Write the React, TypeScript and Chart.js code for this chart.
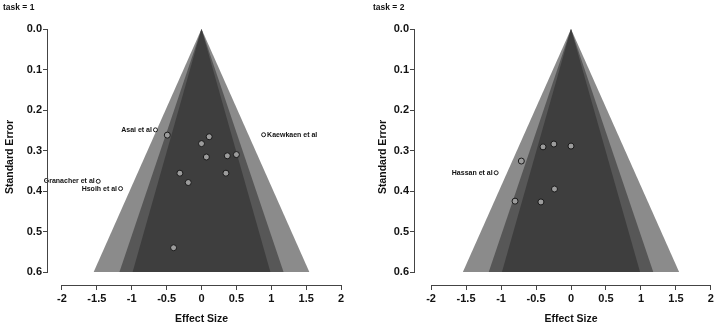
import { useEffect, useRef } from "react";
import { Chart, registerables } from "chart.js";

Chart.register(...registerables);

const FONT = "'Liberation Sans', Arial, sans-serif";

// Axis ticks
const effectTicks = [-2, -1.5, -1, -0.5, 0, 0.5, 1, 1.5, 2];
const seTicks = [0, 0.1, 0.2, 0.3, 0.4, 0.5, 0.6];

// Contour-enhanced funnel: 99%, 95%, 90% regions down to the largest SE shown
const funnelMaxSE = 0.6;
const contourZ = [2.576, 1.96, 1.645];
const contourColors = ["#8b8b8b", "#575757", "#3e3e3e"];

// task = 1 studies
const task1Effect = [-0.49, 0.11, 0.0, 0.07, 0.37, 0.5, -0.31, 0.35, -0.19, -0.4];
const task1SE = [0.262, 0.266, 0.283, 0.316, 0.313, 0.31, 0.356, 0.356, 0.379, 0.54];
const task1Names = ["Asai et al", "Kaewkaen et al", "Granacher et al", "Hsoih et al"];
const task1NameEffect = [-0.66, 0.89, -1.48, -1.16];
const task1NameSE = [0.249, 0.261, 0.376, 0.394];
const task1NameSide = ["left", "right", "left", "left"];

// task = 2 studies
const task2Effect = [-0.4, -0.245, 0.0, -0.71, -0.236, -0.8, -0.43];
const task2SE = [0.291, 0.284, 0.289, 0.326, 0.395, 0.425, 0.427];
const task2Names = ["Hassan et al"];
const task2NameEffect = [-1.07];
const task2NameSE = [0.355];
const task2NameSide = ["left"];

type PanelProps = {
  title: string;
  effect: number[];
  se: number[];
  names: string[];
  nameEffect: number[];
  nameSE: number[];
  nameSide: string[];
  left: number;
  width: number;
  xMin: number;
  xMax: number;
  padRight: number;
  yTitlePad: number;
  titleX: number;
};

function FunnelPanel(p: PanelProps) {
  const ref = useRef<HTMLCanvasElement | null>(null);

  useEffect(() => {
    if (!ref.current) return;

    const funnelPlugin = {
      id: "funnel",
      beforeDatasetsDraw(chart: any) {
        const { ctx } = chart;
        const x = chart.scales.x;
        const y = chart.scales.y;
        ctx.save();
        contourZ.forEach((z, i) => {
          const half = z * funnelMaxSE;
          ctx.beginPath();
          ctx.moveTo(x.getPixelForValue(0), y.getPixelForValue(0));
          ctx.lineTo(x.getPixelForValue(-half), y.getPixelForValue(funnelMaxSE));
          ctx.lineTo(x.getPixelForValue(half), y.getPixelForValue(funnelMaxSE));
          ctx.closePath();
          ctx.fillStyle = contourColors[i];
          ctx.fill();
        });
        ctx.restore();
      },
    };

    const axesPlugin = {
      id: "axesLines",
      afterDraw(chart: any) {
        const { ctx, chartArea } = chart;
        const x = chart.scales.x;
        const y = chart.scales.y;
        ctx.save();
        ctx.strokeStyle = "#444";
        ctx.lineWidth = 1;
        ctx.beginPath();
        const xb = Math.round(chartArea.bottom) + 0.5;
        ctx.moveTo(x.getPixelForValue(effectTicks[0]), xb);
        ctx.lineTo(x.getPixelForValue(effectTicks[effectTicks.length - 1]), xb);
        const yl = Math.round(chartArea.left) - 0.5;
        ctx.moveTo(yl, y.getPixelForValue(seTicks[0]));
        ctx.lineTo(yl, y.getPixelForValue(seTicks[seTicks.length - 1]));
        ctx.stroke();
        // panel heading
        ctx.fillStyle = "#111";
        ctx.font = `bold 8.5px ${FONT}`;
        ctx.textBaseline = "middle";
        ctx.textAlign = "left";
        ctx.fillText(p.title, p.titleX, 8);
        ctx.restore();
      },
    };

    const labelPlugin = {
      id: "studyLabels",
      afterDatasetsDraw(chart: any) {
        const { ctx } = chart;
        const meta = chart.getDatasetMeta(1);
        ctx.save();
        ctx.fillStyle = "#111";
        ctx.font = `bold 7px ${FONT}`;
        ctx.textBaseline = "middle";
        p.names.forEach((name, i) => {
          const el = meta.data[i];
          if (!el) return;
          if (p.nameSide[i] === "left") {
            ctx.textAlign = "right";
            ctx.fillText(name, el.x - 3.5, el.y);
          } else {
            ctx.textAlign = "left";
            ctx.fillText(name, el.x + 3.5, el.y);
          }
        });
        ctx.restore();
      },
    };

    const tickFont = { family: FONT, size: 11, weight: "bold" as const };
    const titleFont = { family: FONT, size: 10.5, weight: "bold" as const };

    const chart = new Chart(ref.current, {
      type: "scatter",
      data: {
        datasets: [
          {
            data: p.effect.map((e, i) => ({ x: e, y: p.se[i] })),
            pointRadius: 3,
            pointBorderWidth: 1,
            pointBackgroundColor: "#9c9c9c",
            pointBorderColor: "#1a1a1a",
          },
          {
            data: p.nameEffect.map((e, i) => ({ x: e, y: p.nameSE[i] })),
            pointRadius: 2,
            pointBorderWidth: 1,
            pointBackgroundColor: "#ffffff",
            pointBorderColor: "#1a1a1a",
            clip: false as any,
          },
        ],
      },
      options: {
        animation: false,
        responsive: false,
        devicePixelRatio: 1,
        layout: { padding: { top: 29, right: p.padRight, left: 0, bottom: 0 } },
        plugins: {
          legend: { display: false },
          tooltip: { enabled: false },
        },
        scales: {
          x: {
            type: "linear",
            min: p.xMin,
            max: p.xMax,
            afterBuildTicks: (s: any) => {
              s.ticks = effectTicks.map((v) => ({ value: v }));
            },
            afterFit: (s: any) => {
              s.height = 40;
            },
            border: { display: false },
            grid: { drawOnChartArea: false, drawTicks: true, tickLength: 5, color: "#444" },
            ticks: {
              autoSkip: false,
              maxRotation: 0,
              padding: 2,
              color: "#111",
              font: tickFont,
              callback: (v: any) => String(v),
            },
            title: {
              display: true,
              text: "Effect Size",
              color: "#111",
              font: titleFont,
              padding: { top: 0, bottom: 0 },
            },
          },
          y: {
            type: "linear",
            reverse: true,
            min: 0,
            max: 0.632,
            afterBuildTicks: (s: any) => {
              s.ticks = seTicks.map((v) => ({ value: v }));
            },
            afterFit: (s: any) => {
              s.width = 48;
            },
            border: { display: false },
            grid: { drawOnChartArea: false, drawTicks: true, tickLength: 5, color: "#444" },
            ticks: {
              autoSkip: false,
              padding: 1,
              color: "#111",
              font: tickFont,
              callback: (v: any) => Number(v).toFixed(1),
            },
            title: {
              display: true,
              text: "Standard Error",
              color: "#111",
              font: titleFont,
              padding: { top: p.yTitlePad, bottom: 0 },
            },
          },
        },
      },
      plugins: [funnelPlugin, labelPlugin, axesPlugin],
    });

    return () => chart.destroy();
  }, []);

  return (
    <canvas
      ref={ref}
      width={p.width}
      height={325}
      style={{ position: "absolute", left: p.left, top: 0, width: p.width, height: 325 }}
    />
  );
}

export default function App() {
  return (
    <div
      style={{
        position: "absolute",
        left: 0,
        top: 0,
        width: 720,
        height: 325,
        overflow: "hidden",
        background: "#fff",
      }}
    >
      <FunnelPanel
        title="task = 1"
        effect={task1Effect}
        se={task1SE}
        names={task1Names}
        nameEffect={task1NameEffect}
        nameSE={task1NameSE}
        nameSide={task1NameSide}
        left={0}
        width={360}
        xMin={-2.2}
        xMax={2.2}
        padRight={3}
        yTitlePad={3.5}
        titleX={3}
      />
      <FunnelPanel
        title="task = 2"
        effect={task2Effect}
        se={task2SE}
        names={task2Names}
        nameEffect={task2NameEffect}
        nameSE={task2NameSE}
        nameSide={task2NameSide}
        left={367}
        width={365}
        xMin={-2.23}
        xMax={2.23}
        padRight={3.4}
        yTitlePad={9.5}
        titleX={6}
      />
    </div>
  );
}
